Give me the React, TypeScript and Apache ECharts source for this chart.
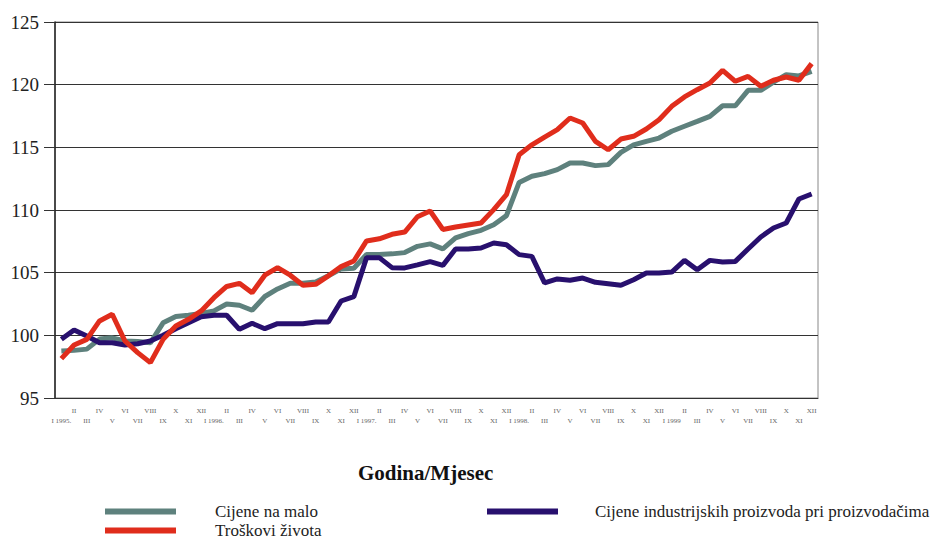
import React, { useEffect, useRef } from "react";
import * as echarts from "echarts";

const romanMonths = ["I", "II", "III", "IV", "V", "VI", "VII", "VIII", "IX", "X", "XI", "XII"];
const yearLabels = ["I 1995.", "I 1996.", "I 1997.", "I 1998.", "I 1999"];
const monthLabels: string[] = [];
yearLabels.forEach((y) => {
  romanMonths.forEach((m, j) => monthLabels.push(j === 0 ? y : m));
});

const seriesNames = [
  "Cijene na malo",
  "Troškovi života",
  "Cijene industrijskih proizvoda pri proizvodačima",
];

const retailPrices = [
  98.75, 98.8, 98.9, 99.7, 99.8, 99.55, 99.5, 99.4, 101.0, 101.5, 101.6, 101.75,
  101.95, 102.5, 102.4, 102.0, 103.1, 103.7, 104.15, 104.15, 104.25, 104.75, 105.3, 105.35,
  106.45, 106.45, 106.5, 106.6, 107.1, 107.3, 106.9, 107.77, 108.11, 108.38, 108.83, 109.55,
  112.2, 112.69, 112.9, 113.22, 113.75, 113.75, 113.54, 113.62, 114.6, 115.2, 115.48, 115.74,
  116.28, 116.68, 117.07, 117.47, 118.32, 118.32, 119.55, 119.55, 120.2, 120.8, 120.7, 121.06,
];

const costOfLiving = [
  98.14, 99.23, 99.68, 101.15, 101.68, 99.55, 98.62, 97.82, 99.68, 100.74, 101.28, 101.95,
  103.0, 103.9, 104.15, 103.4, 104.8, 105.4, 104.8, 104.0, 104.07, 104.75, 105.48, 105.93,
  107.53, 107.7, 108.06, 108.24, 109.46, 109.92, 108.45, 108.64, 108.8, 108.96, 110.03, 111.22,
  114.41, 115.2, 115.82, 116.41, 117.34, 116.94, 115.48, 114.81, 115.66, 115.88, 116.46, 117.2,
  118.27, 119.02, 119.6, 120.13, 121.14, 120.27, 120.66, 119.87, 120.35, 120.61, 120.35, 121.68,
];

const producerPrices = [
  99.68, 100.43, 99.95, 99.41, 99.41, 99.23, 99.33, 99.55, 100.0, 100.53, 101.01, 101.49,
  101.6, 101.6, 100.48, 100.96, 100.53, 100.93, 100.93, 100.93, 101.06, 101.06, 102.74, 103.09,
  106.2, 106.2, 105.4, 105.38, 105.62, 105.88, 105.58, 106.89, 106.89, 106.97, 107.37, 107.23,
  106.44, 106.3, 104.18, 104.5, 104.39, 104.57, 104.23, 104.12, 103.99, 104.44, 104.97, 104.97,
  105.05, 105.98, 105.24, 105.98, 105.85, 105.9, 106.89, 107.85, 108.56, 108.96, 110.88, 111.28,
];

const yTickMin = 95;
const yTickMax = 125;
const yTickStep = 5;

const colors = ["#5e817d", "#e02d1c", "#28106e"];
const serif = "Liberation Serif";

export default function App() {
  const ref = useRef<HTMLDivElement>(null);
  useEffect(() => {
    if (!ref.current) return;
    const chart = echarts.init(ref.current, undefined, { renderer: "svg" });
    const mk = (name: string, data: number[], color: string, z: number) => ({
      name,
      type: "line",
      data,
      symbol: "none",
      z,
      lineStyle: { color, width: 5 },
      itemStyle: { color },
    });
    const legendItem = (name: string, left: number, top: number, pad: number) => ({
      data: [name],
      left,
      top,
      itemWidth: 71,
      itemHeight: 6,
      icon: "rect",
      selectedMode: false,
      padding: 0,
      textStyle: { fontFamily: serif, fontSize: 17, color: "#222", padding: [0, 0, 0, pad] },
    });
    chart.setOption({
      animation: false,
      backgroundColor: "#ffffff",
      textStyle: { fontFamily: serif },
      title: {
        text: "Godina/Mjesec",
        left: 358,
        top: 462,
        padding: 0,
        textStyle: { fontFamily: serif, fontSize: 21, fontWeight: "bold", color: "#111" },
      },
      legend: [
        legendItem(seriesNames[0], 105, 503, 34),
        legendItem(seriesNames[1], 105, 522, 34),
        legendItem(seriesNames[2], 487, 503, 32),
      ],
      grid: {
        left: 55,
        right: 130,
        top: 22,
        bottom: 141,
        show: true,
        borderColor: "#888",
        borderWidth: 1,
        containLabel: false,
      },
      xAxis: {
        type: "category",
        data: monthLabels,
        boundaryGap: true,
        axisLine: { show: true, lineStyle: { color: "#333", width: 1 } },
        axisTick: { show: false },
        splitLine: { show: false },
        axisLabel: {
          interval: 0,
          margin: 8,
          fontFamily: serif,
          fontSize: 7,
          color: "#666",
          lineHeight: 10,
          hideOverlap: false,
          formatter: (value: string, index: number) =>
            index % 2 === 1 ? value + "\n " : " \n" + value,
        },
      },
      yAxis: {
        type: "value",
        min: yTickMin,
        max: yTickMax,
        interval: yTickStep,
        axisLine: { show: true, lineStyle: { color: "#222", width: 1.5 } },
        axisTick: { show: true, inside: false, length: 11, lineStyle: { color: "#333" } },
        splitLine: { show: true, lineStyle: { color: "#333", width: 1 } },
        axisLabel: {
          margin: 16,
          fontFamily: serif,
          fontSize: 19,
          color: "#222",
        },
      },
      series: [
        mk(seriesNames[0], retailPrices, colors[0], 2),
        mk(seriesNames[2], producerPrices, colors[2], 3),
        mk(seriesNames[1], costOfLiving, colors[1], 4),
      ],
    });
    return () => chart.dispose();
  }, []);
  return (
    <div
      ref={ref}
      style={{ position: "fixed", left: 0, top: 0, width: 948, height: 539, background: "#fff" }}
    />
  );
}
